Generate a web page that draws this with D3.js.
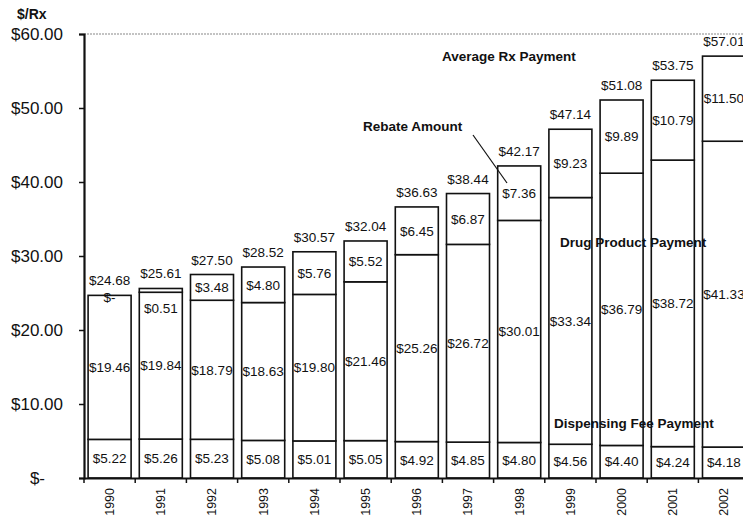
<!DOCTYPE html>
<html>
<head>
  <meta charset="utf-8">
  <title>Average Rx Payment</title>
  <script src="https://d3js.org/d3.v7.min.js"></script>
  <style>
    body { margin: 0; background: #fff; }
    svg text { font-family: "Liberation Sans", Arial, sans-serif; fill: #111; }
    .bold { font-weight: bold; }
  </style>
</head>
<body>
<svg id="chart" width="743" height="523"></svg>
<script>
  /* Chart values */
  var years = ["1990", "1991", "1992", "1993", "1994", "1995", "1996",
               "1997", "1998", "1999", "2000", "2001", "2002"];
  var feePayment = [5.22, 5.26, 5.23, 5.08, 5.01, 5.05, 4.92, 4.85, 4.80, 4.56, 4.40, 4.24, 4.18];
  var drugPayment = [19.46, 19.84, 18.79, 18.63, 19.80, 21.46, 25.26, 26.72, 30.01, 33.34, 36.79, 38.72, 41.33];
  var rebate = [0, 0.51, 3.48, 4.80, 5.76, 5.52, 6.45, 6.87, 7.36, 9.23, 9.89, 10.79, 11.50];
  var totals = [24.68, 25.61, 27.50, 28.52, 30.57, 32.04, 36.63, 38.44, 42.17, 47.14, 51.08, 53.75, 57.01];
  var yTicks = [0, 10, 20, 30, 40, 50, 60];

  var svg = d3.select("#chart");

  var y = d3.scaleLinear().domain([0, 60]).range([478, 34]);

  // band scale runs past the right edge: the 2002 bar is cut off like the original
  var x = d3.scaleBand()
            .domain(years)
            .range([84, 84 + 13 * 51.2])
            .paddingInner(0.16)
            .paddingOuter(0.08);
  var xAxisScale = d3.scaleBand().domain(years).range([84, 84 + 13 * 51.2]);

  var money = d3.format(".2f");
  function dollar(v) { return v === 0 ? "$-" : "$" + money(v); }

  var rows = years.map(function(yr, i) {
    return {
      year: yr,
      fee: feePayment[i],
      drug: drugPayment[i],
      rebate: rebate[i],
      total: totals[i]
    };
  });

  /* top dotted line */
  svg.append("line")
     .attr("x1", 84).attr("x2", 743)
     .attr("y1", y(60)).attr("y2", y(60))
     .attr("stroke", "#888")
     .attr("stroke-width", 1.2)
     .attr("stroke-dasharray", "2,1");

  /* y axis */
  var yAxis = svg.append("g")
     .attr("transform", "translate(84,0)")
     .call(d3.axisLeft(y).tickValues(yTicks).tickSize(5).tickPadding(16)
             .tickFormat(function(d) { return d === 0 ? "$-" : "$" + money(d); }));
  yAxis.select(".domain").attr("stroke", "#111").attr("stroke-width", 2.2);
  yAxis.selectAll(".tick line").attr("stroke", "#111").attr("stroke-width", 1.5);
  yAxis.selectAll(".tick text")
       .style("font-size", "17px")
       .attr("fill", "#111")
       .attr("dx", function(d) { return d === 0 ? -18 : 0; });

  svg.append("text")
     .attr("class", "bold")
     .attr("x", 17).attr("y", 19)
     .style("font-size", "14px")
     .text("$/Rx");

  /* bars */
  var bars = svg.append("g").selectAll("g")
                .data(rows)
                .enter().append("g");

  function seg(sel, lo, hi) {
    sel.append("rect")
       .attr("x", function(d) { return x(d.year); })
       .attr("width", x.bandwidth())
       .attr("y", function(d) { return y(hi(d)); })
       .attr("height", function(d) { return y(lo(d)) - y(hi(d)); })
       .attr("fill", "#fff")
       .attr("stroke", "#111")
       .attr("stroke-width", 1.6);
  }
  seg(bars, function() { return 0; }, function(d) { return d.fee; });
  seg(bars, function(d) { return d.fee; }, function(d) { return d.fee + d.drug; });
  seg(bars, function(d) { return d.fee + d.drug; }, function(d) { return d.fee + d.drug + d.rebate; });

  function cx(d) { return x(d.year) + x.bandwidth() / 2; }

  var labelSize = "13.5px";

  bars.append("text")
      .attr("x", cx)
      .attr("y", function(d) { return y(d.fee / 2); })
      .attr("dy", "0.35em")
      .attr("text-anchor", "middle")
      .style("font-size", labelSize)
      .text(function(d) { return dollar(d.fee); });

  bars.append("text")
      .attr("x", cx)
      .attr("y", function(d) { return y(d.fee + d.drug / 2); })
      .attr("dy", "0.35em")
      .attr("text-anchor", "middle")
      .style("font-size", labelSize)
      .text(function(d) { return dollar(d.drug); });

  bars.append("text")
      .attr("x", cx)
      .attr("y", function(d) {
        var top = y(d.fee + d.drug + d.rebate);
        if (d.rebate === 0) return top + 2;
        if (d.rebate < 1) return top + 20;
        return y(d.fee + d.drug + d.rebate / 2);
      })
      .attr("dy", "0.35em")
      .attr("text-anchor", "middle")
      .style("font-size", labelSize)
      .text(function(d) { return dollar(d.rebate); });

  bars.append("text")
      .attr("x", cx)
      .attr("y", function(d) { return y(d.total) - 10; })
      .attr("text-anchor", "middle")
      .style("font-size", labelSize)
      .text(function(d) { return dollar(d.total); });

  /* x axis */
  var xAxis = svg.append("g")
     .attr("transform", "translate(0,478)")
     .call(d3.axisBottom(xAxisScale).tickSize(0).tickPadding(0));
  xAxis.select(".domain").attr("stroke", "#111").attr("stroke-width", 2);
  xAxis.selectAll(".tick text")
       .attr("transform", "rotate(-90)")
       .attr("text-anchor", "end")
       .attr("x", -10)
       .attr("y", 0)
       .attr("dy", "0.35em")
       .attr("fill", "#111")
       .style("font-size", "12.5px");
  xAxis.selectAll(".boundary")
       .data(years)
       .enter().append("line")
       .attr("x1", function(d) { return xAxisScale(d); })
       .attr("x2", function(d) { return xAxisScale(d); })
       .attr("y1", 0).attr("y2", 5)
       .attr("stroke", "#111")
       .attr("stroke-width", 1.5);

  /* annotations */
  var notes = [
    { text: "Average Rx Payment", x: 442, y: 61 },
    { text: "Rebate Amount", x: 363, y: 131 },
    { text: "Drug Product Payment", x: 560, y: 247 },
    { text: "Dispensing Fee Payment", x: 554, y: 428 }
  ];
  svg.append("g").selectAll("text")
     .data(notes)
     .enter().append("text")
     .attr("class", "bold")
     .attr("x", function(d) { return d.x; })
     .attr("y", function(d) { return d.y; })
     .style("font-size", "13.5px")
     .text(function(d) { return d.text; });

  svg.append("line")
     .attr("x1", 473).attr("y1", 135)
     .attr("x2", 507).attr("y2", 183)
     .attr("stroke", "#111")
     .attr("stroke-width", 1.2);
</script>
</body>
</html>
